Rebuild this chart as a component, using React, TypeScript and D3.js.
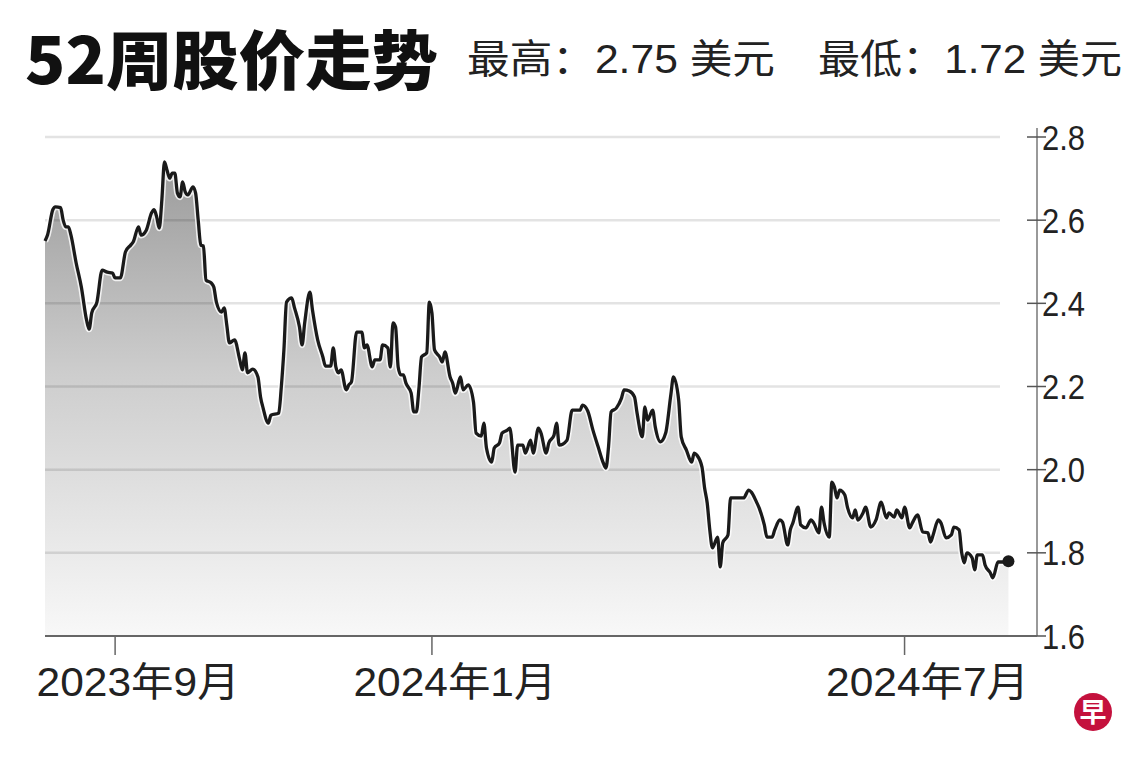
import React from "react";
import * as d3 from "d3";

const dates: string[] = [
  "2023-08-05","2023-08-06","2023-08-08","2023-08-09","2023-08-11","2023-08-12","2023-08-13","2023-08-14","2023-08-15","2023-08-17",
  "2023-08-19","2023-08-21","2023-08-22","2023-08-23","2023-08-25","2023-08-27","2023-08-29","2023-08-31","2023-09-01","2023-09-03",
  "2023-09-05","2023-09-07","2023-09-08","2023-09-10","2023-09-11","2023-09-13","2023-09-15","2023-09-16","2023-09-17","2023-09-18",
  "2023-09-19","2023-09-20","2023-09-21","2023-09-22","2023-09-23","2023-09-24","2023-09-25","2023-09-26","2023-09-27","2023-09-28",
  "2023-09-29","2023-10-01","2023-10-02","2023-10-03","2023-10-04","2023-10-05","2023-10-06","2023-10-08","2023-10-09","2023-10-10",
  "2023-10-12","2023-10-13","2023-10-14","2023-10-15","2023-10-17","2023-10-19","2023-10-20","2023-10-21","2023-10-22","2023-10-24",
  "2023-10-26","2023-10-27","2023-10-28","2023-10-30","2023-10-31","2023-11-03","2023-11-04","2023-11-05","2023-11-06","2023-11-08",
  "2023-11-09","2023-11-11","2023-11-12","2023-11-13","2023-11-15","2023-11-16","2023-11-18","2023-11-20","2023-11-21","2023-11-23",
  "2023-11-24","2023-11-25","2023-11-26","2023-11-27","2023-11-29","2023-11-30","2023-12-01","2023-12-03","2023-12-05","2023-12-06",
  "2023-12-07","2023-12-09","2023-12-10","2023-12-12","2023-12-13","2023-12-15","2023-12-16","2023-12-17","2023-12-18","2023-12-19",
  "2023-12-20","2023-12-21","2023-12-22","2023-12-24","2023-12-25","2023-12-26","2023-12-27","2023-12-28","2023-12-30","2023-12-31",
  "2024-01-01","2024-01-02","2024-01-04","2024-01-05","2024-01-06","2024-01-08","2024-01-09","2024-01-10","2024-01-12","2024-01-13",
  "2024-01-15","2024-01-17","2024-01-18","2024-01-20","2024-01-21","2024-01-22","2024-01-24","2024-01-25","2024-01-27","2024-01-28",
  "2024-01-30","2024-01-31","2024-02-02","2024-02-03","2024-02-05","2024-02-06","2024-02-08","2024-02-09","2024-02-11","2024-02-12",
  "2024-02-14","2024-02-15","2024-02-17","2024-02-18","2024-02-19","2024-02-22","2024-02-24","2024-02-27","2024-02-28","2024-03-01",
  "2024-03-03","2024-03-05","2024-03-07","2024-03-08","2024-03-09","2024-03-10","2024-03-12","2024-03-14","2024-03-15","2024-03-17",
  "2024-03-19","2024-03-20","2024-03-22","2024-03-23","2024-03-24","2024-03-26","2024-03-27","2024-03-29","2024-03-31","2024-04-02",
  "2024-04-03","2024-04-05","2024-04-06","2024-04-08","2024-04-10","2024-04-11","2024-04-12","2024-04-14","2024-04-15","2024-04-16",
  "2024-04-17","2024-04-18","2024-04-20","2024-04-21","2024-04-22","2024-04-24","2024-04-25","2024-04-27","2024-04-30","2024-05-02",
  "2024-05-03","2024-05-05","2024-05-06","2024-05-08","2024-05-09","2024-05-11","2024-05-12","2024-05-14","2024-05-15","2024-05-17",
  "2024-05-18","2024-05-19","2024-05-21","2024-05-22","2024-05-24","2024-05-26","2024-05-27","2024-05-29","2024-05-30","2024-05-31",
  "2024-06-02","2024-06-03","2024-06-04","2024-06-05","2024-06-06","2024-06-08","2024-06-09","2024-06-11","2024-06-12","2024-06-13",
  "2024-06-15","2024-06-16","2024-06-18","2024-06-20","2024-06-22","2024-06-24","2024-06-25","2024-06-27","2024-06-28","2024-06-30",
  "2024-07-01","2024-07-03","2024-07-04","2024-07-06","2024-07-08","2024-07-10","2024-07-11","2024-07-12","2024-07-14","2024-07-15",
  "2024-07-17","2024-07-19","2024-07-20","2024-07-22","2024-07-23","2024-07-24","2024-07-25","2024-07-27","2024-07-28","2024-07-29",
  "2024-07-31","2024-08-01","2024-08-03","2024-08-04","2024-08-06","2024-08-08","2024-08-10"
];

const prices: number[] = [
  2.55,2.565,2.625,2.632,2.63,2.60,2.584,2.584,2.564,2.497,
  2.439,2.36,2.338,2.377,2.403,2.48,2.475,2.473,2.461,2.461,
  2.524,2.54,2.548,2.584,2.564,2.576,2.617,2.625,2.608,2.581,
  2.649,2.74,2.72,2.701,2.713,2.713,2.665,2.656,2.692,2.668,
  2.661,2.68,2.665,2.60,2.54,2.538,2.456,2.449,2.439,2.403,
  2.379,2.389,2.348,2.305,2.312,2.264,2.24,2.281,2.233,2.242,
  2.223,2.175,2.148,2.112,2.131,2.136,2.199,2.288,2.403,2.413,
  2.391,2.343,2.30,2.353,2.427,2.384,2.312,2.271,2.249,2.249,
  2.293,2.247,2.233,2.24,2.192,2.204,2.211,2.331,2.331,2.293,
  2.30,2.247,2.264,2.264,2.30,2.293,2.247,2.353,2.343,2.247,
  2.228,2.228,2.208,2.184,2.139,2.139,2.196,2.271,2.281,2.403,
  2.377,2.288,2.271,2.259,2.283,2.223,2.208,2.184,2.223,2.192,
  2.204,2.163,2.088,2.081,2.112,2.052,2.018,2.052,2.064,2.088,
  2.095,2.10,1.994,2.059,2.059,2.04,2.071,2.04,2.10,2.088,
  2.04,2.064,2.083,2.112,2.059,2.071,2.143,2.143,2.155,2.141,
  2.095,2.055,2.016,2.004,2.055,2.139,2.148,2.172,2.192,2.189,
  2.175,2.136,2.079,2.151,2.119,2.143,2.103,2.067,2.088,2.18,
  2.223,2.168,2.079,2.047,2.018,2.04,2.035,2.006,1.956,1.92,
  1.855,1.812,1.838,1.766,1.824,1.843,1.932,1.932,1.932,1.951,
  1.946,1.922,1.908,1.867,1.838,1.838,1.855,1.879,1.874,1.819,
  1.855,1.872,1.91,1.867,1.86,1.879,1.872,1.848,1.91,1.872,
  1.838,1.97,1.958,1.932,1.951,1.939,1.91,1.884,1.903,1.879,
  1.896,1.91,1.862,1.879,1.922,1.884,1.896,1.886,1.903,1.884,
  1.91,1.86,1.872,1.891,1.85,1.848,1.826,1.843,1.879,1.872,
  1.836,1.843,1.862,1.855,1.80,1.776,1.80,1.788,1.759,1.795,
  1.795,1.771,1.752,1.74,1.778,1.778,1.78
];

const yTicks: number[] = [1.6, 1.8, 2.0, 2.2, 2.4, 2.6, 2.8];
const gridValues: number[] = [1.8, 2.0, 2.2, 2.4, 2.6, 2.8];
const xTickDates: string[] = ["2023-09-01", "2024-01-01", "2024-07-01"];
const xTickLabels: string[] = ["2023年9月", "2024年1月", "2024年7月"];
const titleText = "52周股价走势";
const highText = "最高：2.75 美元";
const lowText = "最低：1.72 美元";
const domainStart = "2023-08-05";
const domainEnd = "2024-08-21";

const parse = d3.timeParse("%Y-%m-%d");

export default function App() {
  const W = 1140;
  const H = 760;
  const x = d3
    .scaleTime()
    .domain([parse(domainStart)!, parse(domainEnd)!])
    .range([45, 1037]);
  const y = d3.scaleLinear().domain([1.6, 2.8]).range([636, 137]);

  const data = dates.map((d, i) => ({ date: parse(d)!, v: prices[i] }));

  const line = d3
    .line<{ date: Date; v: number }>()
    .x((d) => x(d.date))
    .y((d) => y(d.v))
    .curve(d3.curveMonotoneX);
  const area = d3
    .area<{ date: Date; v: number }>()
    .x((d) => x(d.date))
    .y0(y(1.6))
    .y1((d) => y(d.v))
    .curve(d3.curveMonotoneX);

  const last = data[data.length - 1];
  const axisX = 1037;
  const font = "'Liberation Sans', Arial, 'Noto Sans CJK SC', sans-serif";

  return (
    <svg
      width={W}
      height={H}
      viewBox={`0 0 ${W} ${H}`}
      style={{ position: "absolute", left: 0, top: 0, background: "#fff" }}
    >
      <defs>
        <linearGradient id="fillGrad" gradientUnits="userSpaceOnUse" x1="0" y1={y(2.75)} x2="0" y2={y(1.6)}>
          <stop offset="0" stopColor="#9a9a9a" />
          <stop offset="0.45" stopColor="#cdcdcd" />
          <stop offset="1" stopColor="#f8f8f8" />
        </linearGradient>
      </defs>
      <rect x={0} y={0} width={W} height={H} fill="#fff" />

      {/* title */}
      <text
        x={25}
        y={84}
        fontFamily="'Noto Sans CJK SC', sans-serif"
        fontWeight={900}
        fontSize={64}
        fill="#111"
        textLength={413}
        lengthAdjust="spacingAndGlyphs"
      >
        {titleText}
      </text>
      <text
        x={467}
        y={73}
        fontFamily={font}
        fontSize={40}
        fill="#222"
        textLength={308}
        lengthAdjust="spacingAndGlyphs"
      >
        {highText}
      </text>
      <text
        x={818}
        y={73}
        fontFamily={font}
        fontSize={40}
        fill="#222"
        textLength={304}
        lengthAdjust="spacingAndGlyphs"
      >
        {lowText}
      </text>

      {/* area */}
      <path d={area(data) || ""} fill="url(#fillGrad)" />

      {/* gridlines */}
      {gridValues.map((g) => (
        <line
          key={g}
          x1={45}
          x2={1000}
          y1={y(g)}
          y2={y(g)}
          stroke="#000"
          strokeOpacity={0.11}
          strokeWidth={2.5}
        />
      ))}

      {/* line with white halo */}
      <path d={line(data) || ""} fill="none" stroke="#fff" strokeOpacity={0.8} strokeWidth={6.5} strokeLinejoin="round" />
      <path d={line(data) || ""} fill="none" stroke="#1a1a1a" strokeWidth={3.3} strokeLinejoin="round" />
      <circle cx={x(last.date)} cy={y(last.v)} r={6} fill="#1a1a1a" />

      {/* y axis */}
      <line x1={axisX} x2={axisX} y1={y(2.8) - 9} y2={y(1.6)} stroke="#777" strokeWidth={1.5} />
      {yTicks.map((t) => (
        <g key={t}>
          <line x1={axisX - 10} x2={axisX + 9} y1={y(t)} y2={y(t)} stroke="#555" strokeWidth={1.5} />
          <text
            x={axisX + 5}
            y={y(t)}
            dy="0.36em"
            fontFamily={font}
            fontSize={35}
            fill="#222"
            textLength={43}
            lengthAdjust="spacingAndGlyphs"
          >
            {t.toFixed(1)}
          </text>
        </g>
      ))}

      {/* x axis */}
      <line x1={45} x2={axisX} y1={y(1.6)} y2={y(1.6)} stroke="#666" strokeWidth={1.8} />
      {xTickDates.map((d, i) => {
        const xx = x(parse(d)!);
        return (
          <g key={d}>
            <line x1={xx} x2={xx} y1={y(1.6)} y2={y(1.6) + 19} stroke="#666" strokeWidth={1.5} />
            <text
              x={xx + 23}
              y={696}
              textAnchor="middle"
              fontFamily={font}
              fontSize={40}
              fill="#222"
              textLength={203}
              lengthAdjust="spacingAndGlyphs"
            >
              {xTickLabels[i]}
            </text>
          </g>
        );
      })}

      {/* logo */}
      <circle cx={1093} cy={712} r={19} fill="#c4113d" />
      <text
        x={1093}
        y={712}
        dy="0.36em"
        textAnchor="middle"
        fontFamily="'Noto Sans CJK SC', sans-serif"
        fontWeight={700}
        fontSize={27}
        fill="#fff"
      >
        早
      </text>
    </svg>
  );
}
